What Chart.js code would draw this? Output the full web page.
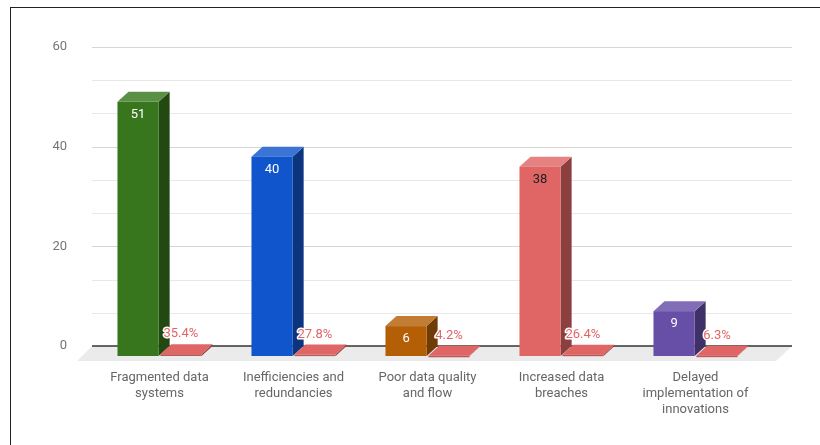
<!DOCTYPE html>
<html>
<head>
<meta charset="utf-8">
<script src="https://cdn.jsdelivr.net/npm/chart.js@4.4.1/dist/chart.umd.min.js"></script>
<style>
  html, body { margin: 0; padding: 0; background: #fff; }
  #wrap { position: relative; width: 820px; height: 445px; overflow: hidden; }
  #frame { position: absolute; left: 10px; top: 7px; width: 900px; height: 600px;
           border-top: 1px solid #222; border-left: 1px solid #222; }
  #chart { position: absolute; left: 0; top: 0; }
</style>
</head>
<body>
<div id="wrap">
  <div id="frame"></div>
  <canvas id="chart" width="820" height="445"></canvas>
</div>
<script>
// Survey results: number of mentions and share of all mentions
const categories = [
  ['Fragmented data', 'systems'],
  ['Inefficiencies and', 'redundancies'],
  ['Poor data quality', 'and flow'],
  ['Increased data', 'breaches'],
  ['Delayed', 'implementation of', 'innovations']
];
const counts = [51, 40, 6, 38, 9];
const shares = [0.354, 0.278, 0.042, 0.264, 0.063];
const yLabels = [0, 20, 40, 60];
const gridStep = 20 / 3;

const countColors = ['#38761d', '#1155cc', '#b45f06', '#e06666', '#674ea7'];
const countTextColors = ['#ffffff', '#ffffff', '#ffffff', '#222222', '#ffffff'];
const shareColor = '#e06666';

// front faces sit this far left / down from the back wall
const DEPTH_X = 11, DEPTH_Y = 10;

function shade(hex, amt) {
  const n = parseInt(hex.slice(1), 16);
  const t = amt < 0 ? 0 : 255, p = Math.abs(amt);
  const c = [n >> 16, (n >> 8) & 255, n & 255].map(v => Math.round(v + (t - v) * p));
  return `rgb(${c[0]},${c[1]},${c[2]})`;
}

function drawBox(ctx, el, color, topAmt) {
  const { x, y, base, width } = el.getProps(['x', 'y', 'base', 'width'], true);
  const l = x - width / 2 - DEPTH_X, r = x + width / 2 - DEPTH_X;
  const t = y + DEPTH_Y, b = base + DEPTH_Y;

  // side
  ctx.fillStyle = shade(color, -0.38);
  ctx.beginPath();
  ctx.moveTo(r, t); ctx.lineTo(r + DEPTH_X, t - DEPTH_Y);
  ctx.lineTo(r + DEPTH_X, b - DEPTH_Y); ctx.lineTo(r, b);
  ctx.closePath(); ctx.fill();

  // top
  ctx.fillStyle = topAmt ? shade(color, topAmt) : color;
  ctx.beginPath();
  ctx.moveTo(l, t); ctx.lineTo(r, t);
  ctx.lineTo(r + DEPTH_X, t - DEPTH_Y); ctx.lineTo(l + DEPTH_X, t - DEPTH_Y);
  ctx.closePath(); ctx.fill();

  // front
  ctx.fillStyle = topAmt ? color : shade(color, -0.15);
  ctx.fillRect(l, t, r - l, Math.max(b - t, 1.5));
  return { cx: (l + r) / 2, top: t };
}

const box3d = {
  id: 'box3d',
  beforeDatasetsDraw(chart) {
    const { ctx, chartArea, scales: { y } } = chart;
    const wallL = chartArea.left - 11.5, wallR = chartArea.right + 18.5;
    const zero = y.getPixelForValue(0);

    // floor
    ctx.save();
    ctx.fillStyle = '#ebebeb';
    ctx.beginPath();
    ctx.moveTo(wallL, zero); ctx.lineTo(wallR, zero);
    ctx.lineTo(wallR - 16, zero + 15); ctx.lineTo(wallL - 15, zero + 15);
    ctx.closePath(); ctx.fill();

    // back wall grid
    y.ticks.forEach(tk => {
      if (tk.value === 0) return;
      const py = Math.round(y.getPixelForValue(tk.value)) + 0.5;
      const k = tk.value / 20;
      ctx.strokeStyle = Math.abs(k - Math.round(k)) < 1e-6 ? '#d6d6d6' : '#e8e8e8';
      ctx.lineWidth = 1;
      ctx.beginPath(); ctx.moveTo(wallL, py); ctx.lineTo(wallR, py); ctx.stroke();
    });

    ctx.strokeStyle = '#333';
    ctx.lineWidth = 1.5;
    ctx.beginPath(); ctx.moveTo(wallL, zero); ctx.lineTo(wallR, zero); ctx.stroke();
    ctx.restore();
  },
  afterDatasetsDraw(chart) {
    const { ctx } = chart;
    const countBars = chart.getDatasetMeta(0).data;
    const shareBars = chart.getDatasetMeta(1).data;
    const labels = [];
    ctx.save();
    countBars.forEach((el, i) => {
      const f1 = drawBox(ctx, el, countColors[i], 0.18);
      labels.push({ text: String(counts[i]), x: f1.cx, y: f1.top + 13, color: countTextColors[i], halo: false });
      const f2 = drawBox(ctx, shareBars[i], shareColor, 0);
      labels.push({ text: (shares[i] * 100).toFixed(1) + '%', x: f2.cx, y: f2.top - 20, color: shareColor, halo: true });
    });

    ctx.font = '13px Roboto';
    ctx.textAlign = 'center';
    ctx.textBaseline = 'middle';
    labels.forEach(lb => {
      if (lb.halo) {
        ctx.strokeStyle = '#fff';
        ctx.lineWidth = 3;
        ctx.lineJoin = 'round';
        ctx.strokeText(lb.text, lb.x, lb.y);
      }
      ctx.fillStyle = lb.color;
      ctx.fillText(lb.text, lb.x, lb.y);
    });
    ctx.restore();
  }
};

new Chart(document.getElementById('chart'), {
  type: 'bar',
  data: {
    labels: categories,
    datasets: [
      { label: 'Count', data: counts, backgroundColor: 'rgba(0,0,0,0)' },
      { label: 'Share', data: shares, backgroundColor: 'rgba(0,0,0,0)' }
    ]
  },
  options: {
    responsive: false,
    animation: false,
    devicePixelRatio: 1,
    categoryPercentage: 0.64,
    barPercentage: 0.96,
    layout: { padding: { top: 47, right: 46.5, bottom: 0, left: 0 } },
    plugins: { legend: { display: false }, tooltip: { enabled: false } },
    scales: {
      x: {
        offset: true,
        grid: { display: false, drawTicks: false },
        border: { display: false },
        ticks: {
          color: '#666666',
          font: { family: 'Roboto', size: 13, lineHeight: 16 / 13 },
          padding: 24,
          labelOffset: -DEPTH_X,
          maxRotation: 0,
          autoSkip: false
        },
        afterFit(scale) { scale.height = 99; }
      },
      y: {
        min: 0,
        max: 60,
        grid: { display: false, drawTicks: false },
        border: { display: false },
        ticks: {
          stepSize: gridStep,
          padding: 36.5,
          color: '#757575',
          font: { family: 'Roboto', size: 13 },
          callback(v) {
            const hit = yLabels.find(t => Math.abs(t - v) < 1e-6);
            return hit === undefined ? '' : String(hit);
          }
        },
        afterFit(scale) { scale.width = 103.5; }
      }
    }
  },
  plugins: [box3d]
});
</script>
</body>
</html>
